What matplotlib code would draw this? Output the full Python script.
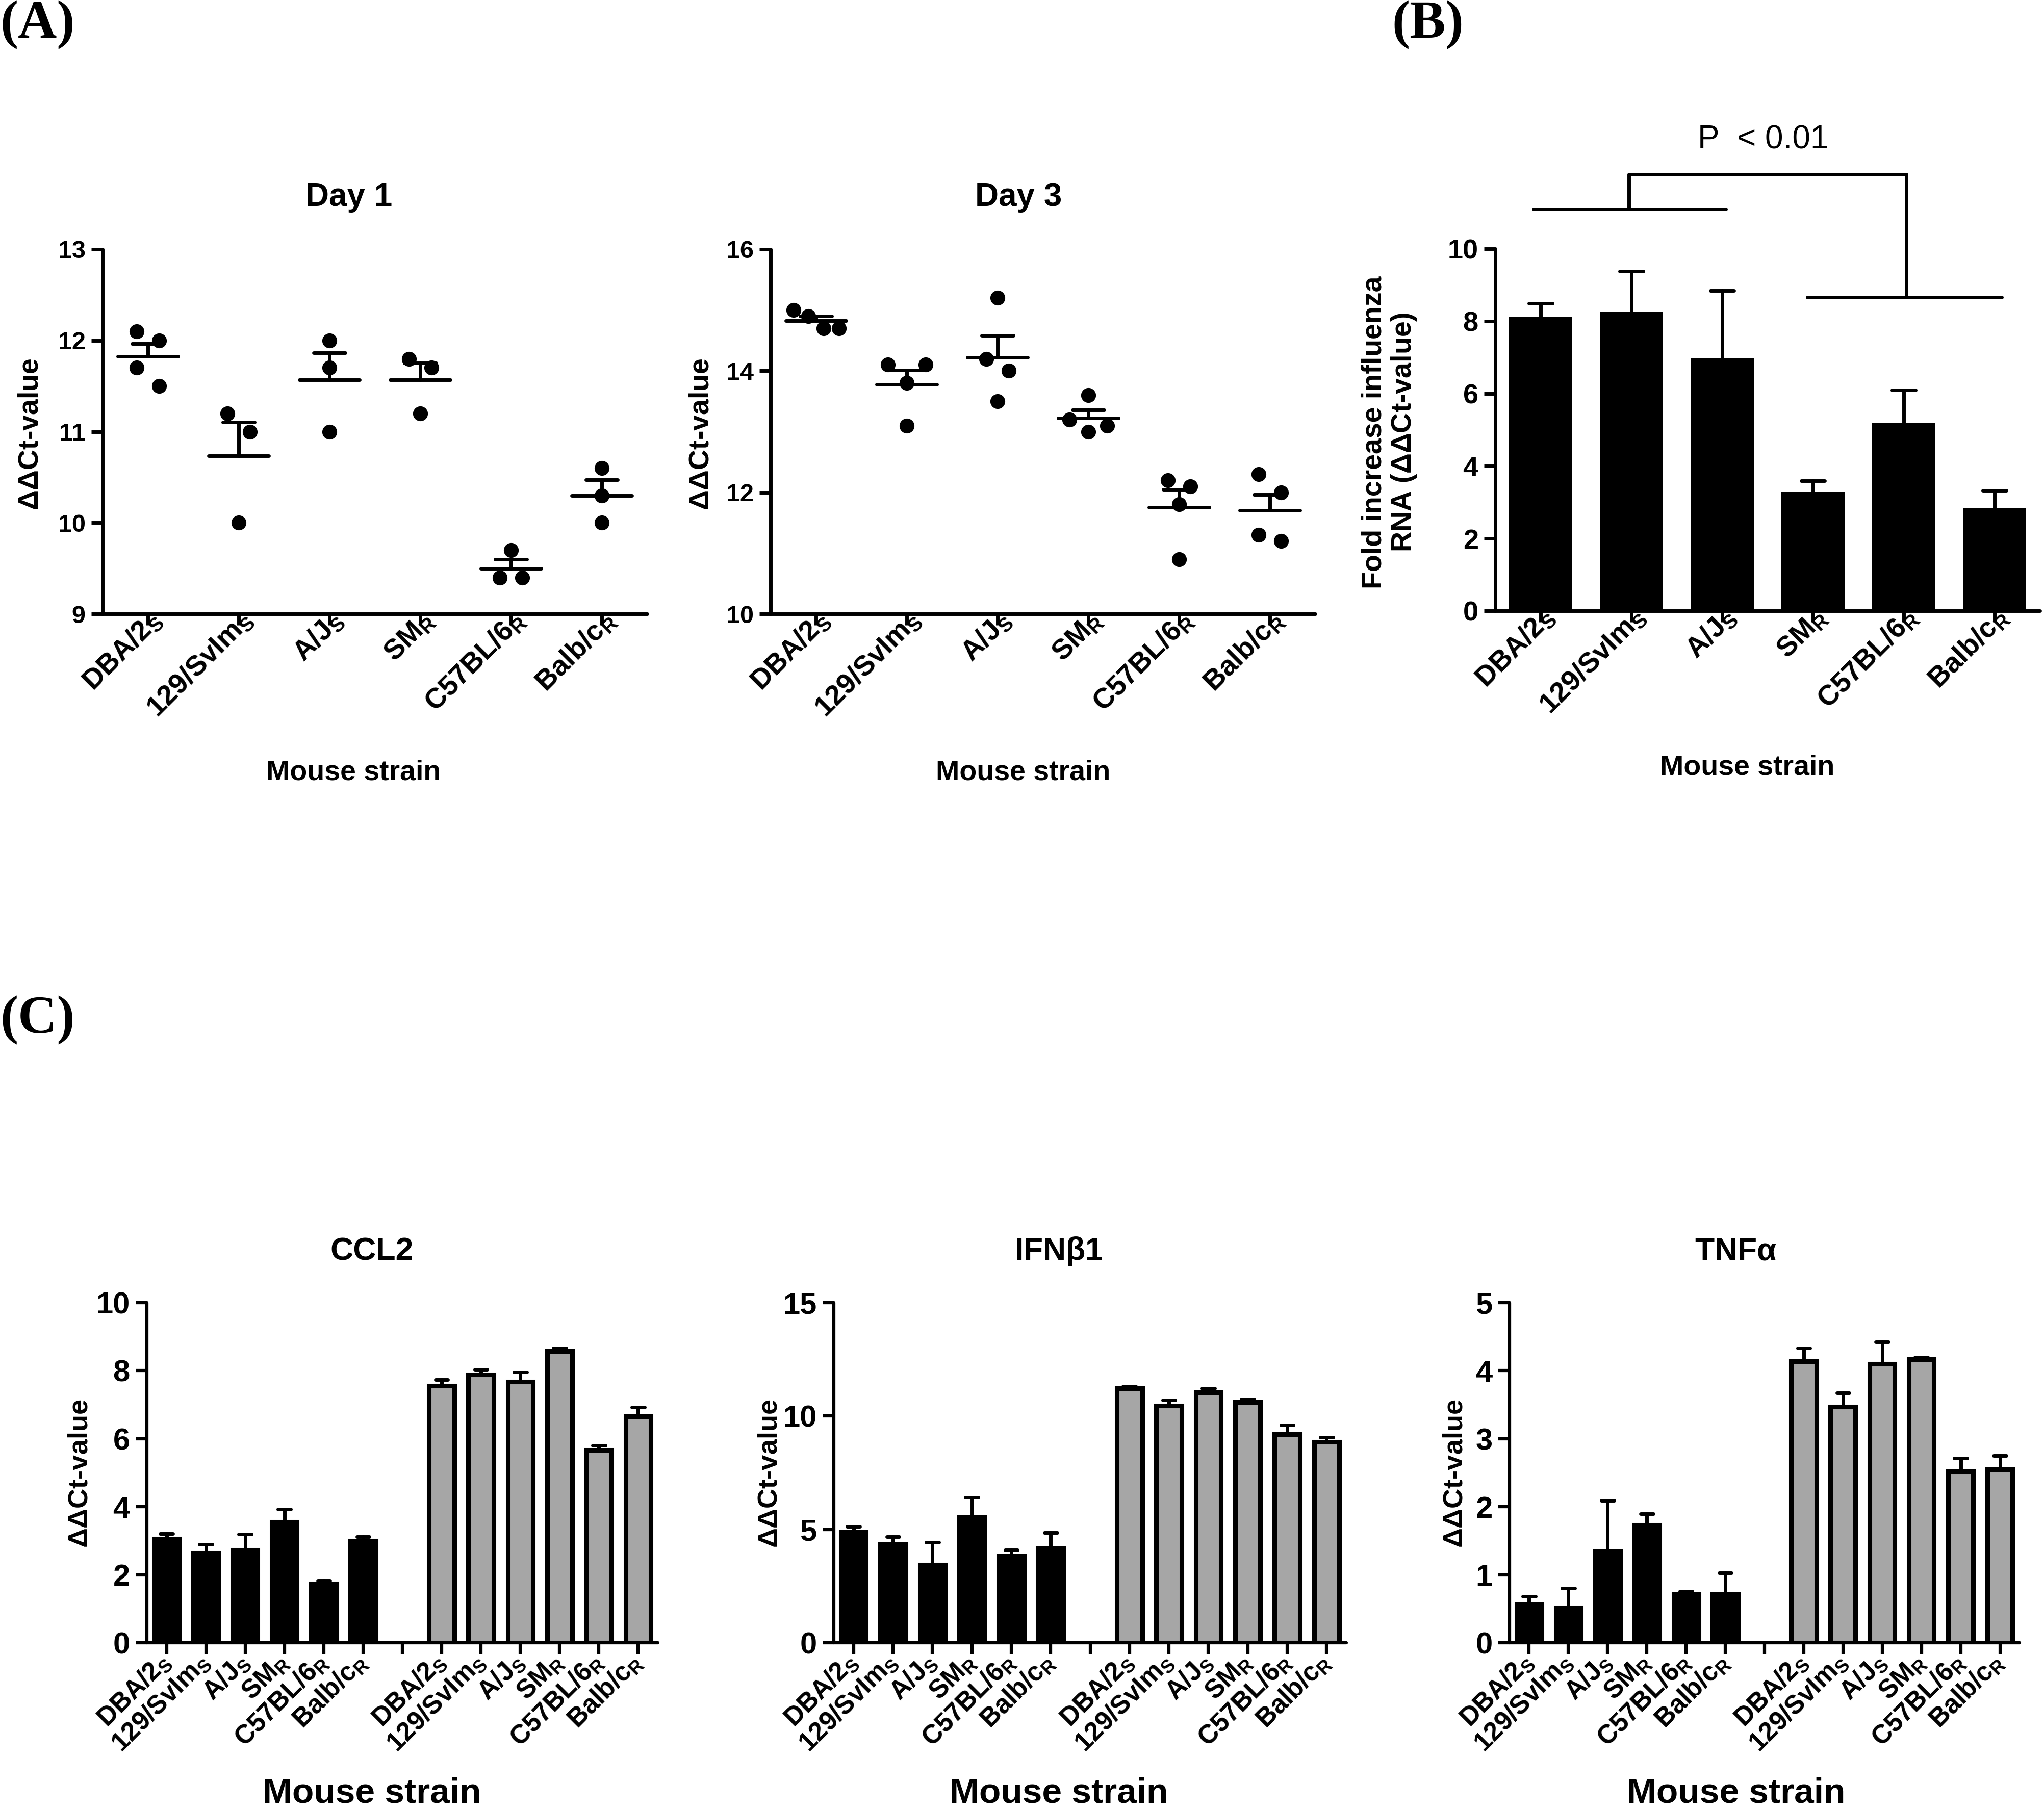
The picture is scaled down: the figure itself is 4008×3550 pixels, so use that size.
"""Influenza RNA and cytokine expression across mouse strains (panels A, B, C)."""

import matplotlib

matplotlib.use("Agg")

import matplotlib.pyplot as plt
import matplotlib.transforms as mtransforms
import numpy as np

plt.rcParams["font.family"] = ["Liberation Sans", "DejaVu Sans"]
plt.rcParams["font.weight"] = "bold"
plt.rcParams["mathtext.fontset"] = "custom"
plt.rcParams["mathtext.rm"] = "Liberation Sans"
plt.rcParams["mathtext.default"] = "regular"

W, H, DPI = 4008, 3550, 100

# ---- data ----
strains = ["DBA/2", "129/SvIm", "A/J", "SM", "C57BL/6", "Balb/c"]
phenotype = ["S", "S", "S", "R", "R", "R"]

day1_points = [
    [12.1, 12.0, 11.7, 11.5],
    [11.2, 11.0, 10.0],
    [12.0, 11.7, 11.0],
    [11.8, 11.7, 11.2],
    [9.7, 9.4, 9.4],
    [10.6, 10.3, 10.0],
]
day3_points = [
    [15.0, 14.9, 14.7, 14.7],
    [14.1, 14.1, 13.8, 13.1],
    [15.2, 14.2, 14.0, 13.5],
    [13.6, 13.2, 13.1, 13.0],
    [12.2, 12.1, 11.8, 10.9],
    [12.3, 12.0, 11.3, 11.2],
]

fold_mean = [8.13, 8.26, 6.97, 3.29, 5.18, 2.83]
fold_sem = [0.36, 1.12, 1.88, 0.30, 0.92, 0.49]

ccl2_uninf = [3.06, 2.64, 2.73, 3.56, 1.74, 3.00]
ccl2_uninf_sem = [0.15, 0.25, 0.46, 0.37, 0.09, 0.12]
ccl2_inf = [7.55, 7.89, 7.68, 8.57, 5.67, 6.65]
ccl2_inf_sem = [0.18, 0.14, 0.28, 0.10, 0.13, 0.28]

ifn_uninf = [4.87, 4.34, 3.44, 5.54, 3.82, 4.16]
ifn_uninf_sem = [0.26, 0.34, 0.98, 0.88, 0.27, 0.69]
ifn_inf = [11.22, 10.46, 11.04, 10.61, 9.20, 8.86]
ifn_inf_sem = [0.10, 0.24, 0.18, 0.14, 0.40, 0.21]

tnf_uninf = [0.56, 0.52, 1.34, 1.73, 0.71, 0.71]
tnf_uninf_sem = [0.12, 0.28, 0.75, 0.17, 0.05, 0.32]
tnf_inf = [4.14, 3.47, 4.10, 4.17, 2.52, 2.55]
tnf_inf_sem = [0.19, 0.20, 0.32, 0.03, 0.19, 0.20]

GRAY = "#a6a6a6"
LW = 5
DDCT = r"$\mathrm{\Delta\Delta}$Ct-value"


def rect(left, top, right, bottom):
    return [left / W, 1 - bottom / H, (right - left) / W, (bottom - top) / H]


def fpos(x, y):
    return x / W, 1 - y / H


def strain_labels():
    return [f"{s}$_\\mathregular{{{p}}}$" for s, p in zip(strains, phenotype)]


def style_axes(ax, yticks, lw=LW, tick_size=35):
    for side in ("top", "right"):
        ax.spines[side].set_visible(False)
    for side in ("left", "bottom"):
        ax.spines[side].set_linewidth(lw)
        ax.spines[side].set_capstyle("round")
    ax.set_yticks(yticks)
    ax.set_ylim(yticks[0], yticks[-1])
    ax.tick_params(axis="both", direction="out", length=16, width=lw, color="black")
    ax.tick_params(axis="y", labelsize=tick_size, pad=8)


def set_category_ticks(ax, positions, labels, size, pad, shift=(0, 0)):
    ax.set_xticks(positions)
    ax.set_xticklabels(labels, rotation=45, ha="right", va="center",
                       rotation_mode="anchor", fontsize=size, fontweight="bold")
    ax.tick_params(axis="x", pad=pad)
    if shift != (0, 0):
        offset = mtransforms.ScaledTranslation(shift[0] / 72, shift[1] / 72,
                                               ax.figure.dpi_scale_trans)
        for lab in ax.get_xticklabels():
            lab.set_transform(lab.get_transform() + offset)


def swarm_offsets(values, px_per_unit, threshold=40):
    """Spread points sideways when they sit in the same row, like Prism does."""
    order = sorted(range(len(values)), key=lambda k: -values[k])
    rows, current = [], [order[0]]
    for k in order[1:]:
        if (values[current[0]] - values[k]) * px_per_unit < threshold:
            current.append(k)
        else:
            rows.append(current)
            current = [k]
    rows.append(current)
    offsets = np.zeros(len(values))
    for row in rows:
        n = len(row)
        if n == 2:
            slots = [-0.125, 0.125]
        elif n == 3:
            slots = [-0.21, 0.21, 0.0]
        elif n >= 4:
            slots = list(np.linspace(-0.25, 0.25, n))
        else:
            slots = [0.0]
        for k, s in zip(row, slots):
            offsets[k] = s
    return offsets


def dot_panel(ax, groups, yticks):
    style_axes(ax, yticks)
    ax.set_xlim(-0.5, 5.5)
    height_px = ax.get_position().height * H
    px_per_unit = height_px / (yticks[-1] - yticks[0])
    for i, vals in enumerate(groups):
        vals = np.array(vals)
        mean = vals.mean()
        sem = vals.std(ddof=1) / np.sqrt(len(vals))
        off = swarm_offsets(list(vals), px_per_unit)
        ax.plot(i + off, vals, "o", ms=20, color="black", mec="black", zorder=3, clip_on=False)
        ax.hlines(mean, i - 0.33, i + 0.33, color="black", lw=LW, capstyle="round", zorder=4)
        ax.vlines(i, mean, mean + sem, color="black", lw=LW, capstyle="round", zorder=4)
        ax.hlines(mean + sem, i - 0.175, i + 0.175, color="black", lw=LW, capstyle="round", zorder=4)
    set_category_ticks(ax, range(6), strain_labels(), 40, 5, shift=(14, 17))


def bar_errors(ax, x, means, sems, half_cap, lw):
    tops = np.array(means) + np.array(sems)
    ax.vlines(x, means, tops, color="black", lw=lw, capstyle="round", zorder=1)
    ax.hlines(tops, np.array(x) - half_cap, np.array(x) + half_cap,
              color="black", lw=lw, capstyle="round", zorder=1)


def cytokine_panel(ax, uninf, uninf_sem, inf, inf_sem, yticks):
    style_axes(ax, yticks, lw=4.5, tick_size=43)
    ax.set_xlim(-0.5, 12.5)
    x_black = np.arange(6)
    x_gray = np.arange(7, 13)
    bar_errors(ax, x_black, uninf, uninf_sem, 0.16, 5)
    bar_errors(ax, x_gray, inf, inf_sem, 0.16, 5)
    ax.bar(x_black, uninf, width=0.64, color="black", edgecolor="black", lw=6.5, zorder=2)
    ax.bar(x_gray, inf, width=0.64, color=GRAY, edgecolor="black", lw=6.5, zorder=2)
    labels = strain_labels() + [""] + strain_labels()
    set_category_ticks(ax, range(13), labels, 37, 6)


def main() -> None:
    fig = plt.figure(figsize=(W / DPI, H / DPI), dpi=DPI)

    # ---- panel A ----
    ax1 = fig.add_axes(rect(201, 489, 1269, 1204))
    dot_panel(ax1, day1_points, [9, 10, 11, 12, 13])
    ax3 = fig.add_axes(rect(1511, 489, 2579, 1204))
    dot_panel(ax3, day3_points, [10, 12, 14, 16])

    for cx, title, ylx in ((684, "Day 1", 61), (1997, "Day 3", 1375)):
        fig.text(*fpos(cx, 387), title, ha="center", va="center", fontsize=46)
        fig.text(*fpos(cx + 9, 1515), "Mouse strain", ha="center", va="center", fontsize=40)
        fig.text(*fpos(ylx, 852), DDCT, ha="center", va="center",
                 rotation=90, fontsize=40)

    # ---- panel B ----
    axb = fig.add_axes(rect(2932, 488, 4000, 1198))
    style_axes(axb, [0, 2, 4, 6, 8, 10], tick_size=39)
    axb.set_xlim(-0.5, 5.5)
    xb = np.arange(6)
    bar_errors(axb, xb, fold_mean, fold_sem, 0.13, LW)
    axb.bar(xb, fold_mean, width=0.70, color="black", lw=0, zorder=2)
    set_category_ticks(axb, xb, strain_labels(), 40, 5, shift=(14, 17))

    bracket = dict(color="black", lw=LW, solid_capstyle="round", clip_on=False)
    low_y, top_y, high_y = 11.1, 12.06, 8.66
    axb.plot([-0.08, 2.04], [low_y, low_y], **bracket)
    axb.plot([0.97, 0.97, 4.03, 4.03], [low_y, top_y, top_y, high_y], **bracket)
    axb.plot([2.94, 5.08], [high_y, high_y], **bracket)
    axb.text(2.45, 13.0, "P  < 0.01", ha="center", va="center",
             fontsize=46, fontweight="normal")

    fig.text(*fpos(3426, 1505), "Mouse strain", ha="center", va="center", fontsize=40)
    fig.text(*fpos(2725, 848), "Fold increase influenza\nRNA (" + DDCT + ")",
             ha="center", va="center", rotation=90, fontsize=40, linespacing=1.1)

    # ---- panel C ----
    specs = [
        ((288, 1290), "CCL2", ccl2_uninf, ccl2_uninf_sem, ccl2_inf, ccl2_inf_sem,
         [0, 2, 4, 6, 8, 10], (729, 158)),
        ((1635, 2640), r"IFN$\mathrm{\beta}$1", ifn_uninf, ifn_uninf_sem, ifn_inf, ifn_inf_sem,
         [0, 5, 10, 15], (2076, 1510)),
        ((2960, 3960), r"TNF$\mathrm{\alpha}$", tnf_uninf, tnf_uninf_sem, tnf_inf, tnf_inf_sem,
         [0, 1, 2, 3, 4, 5], (3404, 2854)),
    ]
    for (left, right), title, u, us, i_, is_, yt, (cx, ylx) in specs:
        ax = fig.add_axes(rect(left, 2555, right, 3222))
        cytokine_panel(ax, u, us, i_, is_, yt)
        fig.text(*fpos(cx, 2455), title, ha="center", va="center", fontsize=45)
        fig.text(*fpos(cx, 3518), "Mouse strain", ha="center", va="center", fontsize=50)
        fig.text(*fpos(ylx, 2890), DDCT, ha="center", va="center",
                 rotation=90, fontsize=39)

    # ---- panel letters ----
    serif = dict(fontsize=76, fontweight="bold", family="Liberation Serif", va="top", ha="left")
    fig.text(*fpos(0, 0), "(A)", **serif)
    fig.text(*fpos(2729, 0), "(B)", **serif)
    fig.text(*fpos(0, 1952), "(C)", **serif)

    fig.savefig("out.png", dpi=DPI, facecolor="white")
    plt.close(fig)


if __name__ == "__main__":
    main()
